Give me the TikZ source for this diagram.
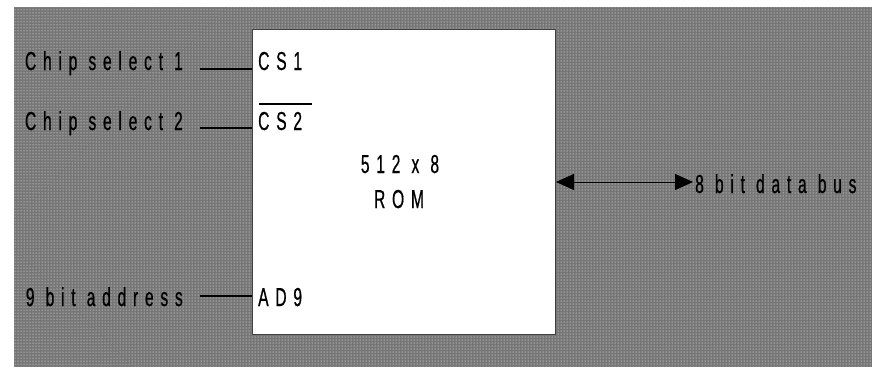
\documentclass[tikz,border=0pt]{standalone}
\usepackage{fontspec}
\setmainfont{Liberation Sans}[FakeStretch=0.6,LetterSpace=26,FakeBold=0.6]
\usetikzlibrary{arrows.meta,patterns}
\definecolor{bggray}{RGB}{118,118,118}
\begin{document}
\begin{tikzpicture}[x=1pt,y=-1pt,
  lbl/.style={inner sep=0pt,font=\fontsize{26}{28}\selectfont},
  wire/.style={draw=black,line width=1.2pt},
  bus/.style={draw=black,line width=0.8pt,{Triangle[length=18pt,width=16pt]}-{Triangle[length=18pt,width=16pt]}}]
  % page and halftone backdrop
  \useasboundingbox (0,0) rectangle (872,367);
  \fill[white] (0,0) rectangle (872,367);
  \fill[bggray] (14,7) rectangle (872,367);
  \fill[pattern=dots,pattern color=white] (14,7) rectangle (872,367);
  % ROM chip
  \node[draw=black!75,fill=white,line width=1pt,minimum width=303pt,minimum height=305pt,anchor=north west,inner sep=0pt] (rom) at (252,29) {};
  \node[lbl,anchor=base] (size) at (400,173) {512 x 8};
  \node[lbl,anchor=base] (romlbl) at (399,208) {ROM};
  % pins
  \node[lbl,anchor=base west] (cs1) at (258,70) {CS1};
  \node[lbl,anchor=base west] (cs2) at (258,130) {CS2};
  \draw[line width=1.2pt] (259,104) -- (312,104);
  \node[lbl,anchor=base west] (ad9) at (258,306) {AD9};
  % external signals
  \node[lbl,anchor=base east] (sel1) at (183,70) {Chip select 1};
  \node[lbl,anchor=base east] (sel2) at (183,130) {Chip select 2};
  \node[lbl,anchor=base east] (addr) at (183,306) {9 bit address};
  \node[lbl,anchor=base west] (data) at (695,193) {8 bit data bus};
  \coordinate (w1) at (200,69);
  \coordinate (w2) at (200,128);
  \coordinate (w3) at (200,296);
  \draw[wire] (w1) -- (w1 -| rom.west);
  \draw[wire] (w2) -- (w2 -| rom.west);
  \draw[wire] (w3) -- (w3 -| rom.west);
  \coordinate (busend) at (693,182);
  \draw[bus] (busend -| rom.east) -- (busend);
\end{tikzpicture}
\end{document}
